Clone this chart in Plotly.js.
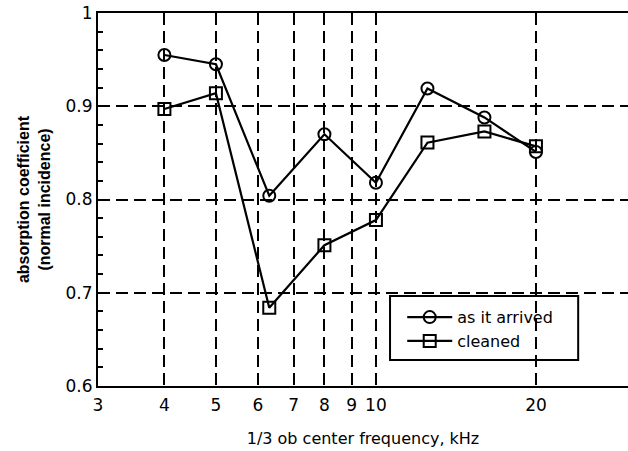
<!DOCTYPE html>
<html>
<head>
<meta charset="utf-8">
<script src="https://cdn.plot.ly/plotly-3.0.1.min.js"></script>
<style>html,body{margin:0;padding:0;background:#fff;}#chart{width:628px;height:451px;}</style>
</head>
<body>
<div id="chart"></div>
<script>
const freqs = [4, 5, 6.3, 8, 10, 12.5, 16, 20];
const asArrived = [0.955, 0.945, 0.804, 0.870, 0.818, 0.919, 0.888, 0.851];
const cleaned = [0.897, 0.914, 0.684, 0.751, 0.778, 0.861, 0.873, 0.857];
const xTickVals = [3, 4, 5, 6, 7, 8, 9, 10, 20];
const xTickText = ['3', '4', '5', '6', '7', '8', '9', '10', '20'];
const yTickVals = [0.6, 0.7, 0.8, 0.9, 1];
const yTickText = ['0.6', '0.7', '0.8', '0.9', '1'];

const dv = 'DejaVu Sans, sans-serif';
const lib = 'Liberation Sans, Arial, sans-serif';
const traces = [
  {x: freqs, y: asArrived, name: 'as it arrived', mode: 'lines+markers', type: 'scatter',
   line: {color: '#000', width: 2.2},
   marker: {symbol: 'circle-open', size: 12, color: '#000', line: {width: 2, color: '#000'}}},
  {x: freqs, y: cleaned, name: 'cleaned', mode: 'lines+markers', type: 'scatter',
   line: {color: '#000', width: 2.2},
   marker: {symbol: 'square-open', size: 12, color: '#000', line: {width: 2, color: '#000'}}}
];
const layout = {
  width: 628, height: 451,
  margin: {l: 98, r: 0, t: 13, b: 65},
  paper_bgcolor: '#fff', plot_bgcolor: '#fff',
  font: {family: dv, color: '#000', size: 16},
  showlegend: true,
  legend: {x: 0.574, y: 0.23, xanchor: 'left', yanchor: 'top',
    bgcolor: 'rgba(0,0,0,0)', borderwidth: 0,
    font: {family: dv, size: 16, color: '#000'}, tracegroupgap: 0, itemwidth: 45},
  shapes: [{type: 'rect', xref: 'paper', yref: 'paper', x0: 0.551, x1: 0.906, y0: 0.070, y1: 0.241,
    line: {color: '#000', width: 2}, fillcolor: 'rgba(0,0,0,0)', layer: 'above'}],
  xaxis: {type: 'log', range: [Math.log10(3), Math.log10(29.8)],
    tickmode: 'array', tickvals: xTickVals, ticktext: xTickText,
    showgrid: true, gridcolor: '#000', gridwidth: 2, griddash: '12px,6px',
    showline: true, linecolor: '#000', linewidth: 2, mirror: true,
    ticks: '', ticklabelstandoff: 3, tickfont: {family: dv, size: 17, color: '#000'},
    title: {text: '1/3 ob center frequency, kHz', font: {family: dv, size: 16, color: '#000'}, standoff: 18},
    zeroline: false},
  yaxis: {range: [0.6, 1], tickmode: 'array', tickvals: yTickVals, ticktext: yTickText,
    showgrid: true, gridcolor: '#000', gridwidth: 2, griddash: '12px,6px',
    showline: true, linecolor: '#000', linewidth: 2, mirror: false,
    ticks: 'inside', ticklen: 5, tickwidth: 2, tickcolor: '#000',
    minor: {dtick: 0.02, ticks: 'inside', ticklen: 5, tickwidth: 2, tickcolor: '#000', showgrid: false},
    tickfont: {family: dv, size: 17, color: '#000'},
    title: {text: '<b>absorption coefficient</b><br><b>(normal incidence)</b>', font: {family: lib, size: 16, color: '#000'}, standoff: 11},
    zeroline: false}
};
Plotly.newPlot('chart', traces, layout, {displayModeBar: false, staticPlot: true});
</script>
</body>
</html>
